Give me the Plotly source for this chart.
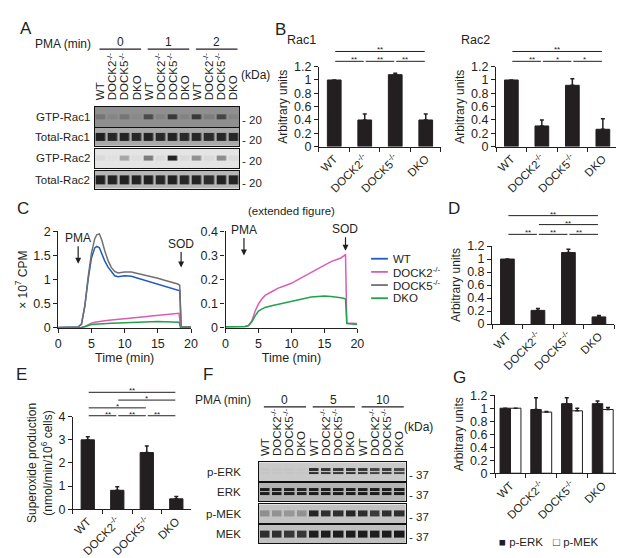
import plotly.graph_objects as go

W, H = 624, 558
FONT = "Liberation Sans, Arial, Helvetica, sans-serif"
INK = "#231f20"

# ---------------- data ----------------
genotypes = ["WT", "DOCK2<sup>-/-</sup>", "DOCK5<sup>-/-</sup>", "DKO"]

rac1_mean = [1.00, 0.40, 1.08, 0.40]
rac1_err = [0.00, 0.09, 0.02, 0.09]
rac2_mean = [1.00, 0.31, 0.92, 0.26]
rac2_err = [0.00, 0.09, 0.10, 0.16]
d_mean = [1.00, 0.21, 1.10, 0.11]
d_err = [0.00, 0.03, 0.05, 0.02]
e_mean = [3.00, 0.82, 2.45, 0.45]
e_err = [0.13, 0.15, 0.28, 0.10]
g_perk_mean = [1.00, 0.98, 1.07, 1.07]
g_perk_err = [0.00, 0.18, 0.09, 0.04]
g_pmek_mean = [1.00, 0.94, 0.96, 0.98]
g_pmek_err = [0.00, 0.01, 0.04, 0.03]

time_hi = [0, 1, 2, 3, 3.5, 4, 4.5, 5, 5.5, 5.8, 6.2, 6.6, 7, 7.5, 8, 8.5, 9,
           9.5, 10, 11, 12, 13, 14, 15, 16, 17, 18, 18.3, 18.5, 19, 20]
wt_cpm = [0.01, 0.01, 0.01, 0.02, 0.08, 0.45, 1.00, 1.45, 1.66, 1.69, 1.66,
          1.52, 1.39, 1.26, 1.16, 1.08, 1.06, 1.07, 1.08, 1.07, 1.03, 0.98,
          0.94, 0.90, 0.86, 0.83, 0.79, 0.77, 0.03, 0.02, 0.02]
dock5_cpm = [0.01, 0.01, 0.01, 0.02, 0.08, 0.45, 1.05, 1.55, 1.85, 1.93, 1.95,
             1.80, 1.60, 1.40, 1.25, 1.17, 1.14, 1.15, 1.16, 1.16, 1.13, 1.09,
             1.06, 1.03, 0.99, 0.95, 0.91, 0.88, 0.03, 0.02, 0.02]
time_lo = [0, 1, 2, 3, 3.5, 4, 4.5, 5, 5.5, 6, 7, 8, 9, 10, 11, 12, 13, 14,
           15, 16, 17, 17.5, 18, 18.2, 18.4, 19, 20]
dock2_cpm = [0.005, 0.005, 0.005, 0.006, 0.01, 0.03, 0.07, 0.10, 0.12, 0.135,
             0.15, 0.165, 0.175, 0.185, 0.20, 0.215, 0.23, 0.245, 0.26, 0.275,
             0.285, 0.29, 0.30, 0.305, 0.02, 0.02, 0.018]
dko_cpm = [0.005, 0.005, 0.005, 0.006, 0.01, 0.025, 0.05, 0.07, 0.078, 0.085,
           0.092, 0.098, 0.104, 0.11, 0.118, 0.125, 0.128, 0.13, 0.132, 0.13,
           0.128, 0.125, 0.122, 0.12, 0.018, 0.016, 0.014]

lanes = genotypes * 3
pma_a = ["0", "1", "2"]
pma_f = ["0", "5", "10"]
# band intensities per lane (0 = no band, 1 = black)
gtp_rac1 = [0.22, 0.08, 0.22, 0.05, 0.55, 0.10, 0.70, 0.10, 0.70, 0.15, 0.60, 0.08]
total_rac1 = [0.92, 0.88, 0.90, 0.88, 0.90, 0.86, 0.90, 0.86, 0.88, 0.84, 0.88, 0.88]
gtp_rac2 = [0.05, 0.02, 0.30, 0.03, 0.50, 0.05, 0.92, 0.05, 0.40, 0.05, 0.42, 0.05]
total_rac2 = [0.92, 0.90, 0.92, 0.90, 0.92, 0.88, 0.92, 0.88, 0.90, 0.85, 0.92, 0.90]
p_erk = [0.02, 0.02, 0.02, 0.02, 0.85, 0.80, 0.80, 0.82, 0.80, 0.72, 0.78, 0.70]
erk = [0.95, 0.95, 0.92, 0.92, 0.95, 0.95, 0.95, 0.95, 0.95, 0.95, 0.95, 0.95]
p_mek = [0.30, 0.28, 0.25, 0.28, 0.90, 0.85, 0.85, 0.90, 0.85, 0.78, 0.85, 0.85]
mek = [0.85, 0.85, 0.80, 0.80, 0.95, 0.95, 0.95, 0.95, 0.95, 0.95, 0.95, 0.97]


def xd(a, b):
    return [a / W, b / W]


def yd(top, bottom):
    return [1 - bottom / H, 1 - top / H]


def px(a):
    return a / W


def py(b):
    return 1 - b / H


fig = go.Figure()
layout = {}
shapes = []
annos = []


def txt(x, y, text, size=11, xanchor="center", yanchor="middle", **kw):
    d = dict(x=x, y=y, xref=kw.pop("xref", "paper"), yref=kw.pop("yref", "paper"),
             text=text, showarrow=False, xanchor=xanchor, yanchor=yanchor,
             font=dict(size=size, color=INK, family=FONT))
    d.update(kw)
    annos.append(d)


# ---------------- bar charts ----------------
def bar_axes(n, xdom, ydom, yrange, dtick, ytitle, tsize=12):
    layout[f"xaxis{n}"] = dict(domain=xdom, anchor=f"y{n}", range=[-0.5, 3.5],
                               showline=True, linecolor=INK, linewidth=1.2,
                               ticks="outside", ticklen=4, tickcolor=INK,
                               tickson="boundaries", tickangle=-45,
                               tickfont=dict(size=11.5), showgrid=False)
    layout[f"yaxis{n}"] = dict(domain=ydom, anchor=f"x{n}", range=yrange,
                               dtick=dtick, showline=True, linecolor=INK,
                               linewidth=1.2, ticks="outside", ticklen=4,
                               tickcolor=INK, showgrid=False, zeroline=False,
                               tickfont=dict(size=12.5),
                               title=dict(text=ytitle, font=dict(size=tsize),
                                          standoff=3))


def bar(n, vals, errs, color=INK, width=0.45, offset=None, line_color=INK):
    kw = {}
    if offset is not None:
        kw["offset"] = offset
    fig.add_trace(go.Bar(x=genotypes, y=vals, width=width,
                         marker=dict(color=color, line=dict(color=line_color, width=1)),
                         error_y=dict(type="data", array=errs,
                                      arrayminus=[0] * len(errs), symmetric=False,
                                      color=INK, thickness=1.5, width=2),
                         xaxis=f"x{n}", yaxis=f"y{n}", hoverinfo="skip", **kw))


def sig(n, i, j, yfrac, label):
    xa = "x domain" if n == 1 else f"x{n} domain"
    ya = "y domain" if n == 1 else f"y{n} domain"
    x0 = (i + 0.5) / 4 + 0.008
    x1 = (j + 0.5) / 4 - 0.008
    shapes.append(dict(type="line", xref=xa, yref=ya, x0=x0, x1=x1, y0=yfrac,
                       y1=yfrac, line=dict(color=INK, width=1)))
    annos.append(dict(xref=xa, yref=ya, x=(x0 + x1) / 2, y=yfrac, text=label,
                      showarrow=False, yanchor="bottom", yshift=-5,
                      font=dict(size=8, color=INK, family=FONT)))


# B - Rac1
bar_axes("", xd(313, 437), yd(53, 135), [0, 1.2], 0.2, "Arbitrary units")
bar(1, rac1_mean, rac1_err)
# B - Rac2
bar_axes(2, xd(493, 617), yd(53, 135), [0, 1.2], 0.2, "Arbitrary units")
bar(2, rac2_mean, rac2_err)
# D
bar_axes(5, xd(489, 613), yd(237, 317), [0, 1.2], 0.2, "Arbitrary units")
bar(5, d_mean, d_err)
# E
bar_axes(6, xd(63, 183), yd(412, 507), [0, 4], 1,
         "Superoxide production<br>(nmol/min/10<sup>6</sup> cells)")
bar(6, e_mean, e_err)
# G
bar_axes(7, xd(492, 617), yd(390, 470), [0, 1.2], 0.2, "Arbitrary units")
bar(7, g_perk_mean, g_perk_err, width=0.34, offset=-0.34)
bar(7, g_pmek_mean, g_pmek_err, color="white", width=0.34, offset=0.0)

layout["xaxis"]["anchor"] = "y"
layout["yaxis"]["anchor"] = "x"

# significance marks
for (i, j, yy, lab) in [(0, 3, 1.19, "**"), (0, 1, 1.067, "**"), (1, 2, 1.067, "**"), (2, 3, 1.067, "**")]:
    sig(1, i, j, yy, lab)
for (i, j, yy, lab) in [(0, 3, 1.19, "**"), (0, 1, 1.067, "**"), (1, 2, 1.067, "*"), (2, 3, 1.067, "*")]:
    sig(2, i, j, yy, lab)
for (i, j, yy, lab) in [(0, 3, 1.39, "**"), (1, 3, 1.275, "**"), (0, 1, 1.15, "**"), (1, 2, 1.15, "**"), (2, 3, 1.15, "**")]:
    sig(5, i, j, yy, lab)
for (i, j, yy, lab) in [(0, 3, 1.263, "**"), (1, 3, 1.179, "*"), (0, 2, 1.095, "*"), (0, 1, 1.01, "**"), (1, 2, 1.01, "**"), (2, 3, 1.01, "**")]:
    sig(6, i, j, yy, lab)

# ---------------- C line charts ----------------
line_colors = {"WT": "#1f5bbf", "DOCK2": "#dc5cb4", "DOCK5": "#707070", "DKO": "#1fa24a"}
for n, xdom in [(3, xd(48, 183)), (4, xd(218, 352))]:
    layout[f"xaxis{n}"] = dict(domain=xdom, anchor=f"y{n}", range=[0, 20], dtick=5,
                               showline=True, linecolor=INK, linewidth=1.2,
                               ticks="outside", ticklen=4, tickcolor=INK,
                               showgrid=False, zeroline=False,
                               tickfont=dict(size=12.5),
                               title=dict(text="Time (min)", font=dict(size=12.5), standoff=2))
layout["yaxis3"] = dict(domain=yd(222, 321), anchor="x3", range=[0, 2], dtick=0.5,
                        showline=True, linecolor=INK, linewidth=1.2, ticks="outside",
                        ticklen=4, tickcolor=INK, showgrid=False, zeroline=False,
                        tickfont=dict(size=12.5),
                        title=dict(text="× 10<sup>7</sup> CPM", font=dict(size=12), standoff=3))
layout["yaxis4"] = dict(domain=yd(222, 321), anchor="x4", range=[0, 0.4], dtick=0.1,
                        showline=True, linecolor=INK, linewidth=1.2, ticks="outside",
                        ticklen=4, tickcolor=INK, showgrid=False, zeroline=False,
                        tickfont=dict(size=12.5))

for t, v, c in [(time_hi, wt_cpm, "WT"), (time_hi, dock5_cpm, "DOCK5"),
                (time_lo, dock2_cpm, "DOCK2"), (time_lo, dko_cpm, "DKO")]:
    fig.add_trace(go.Scatter(x=t, y=v, mode="lines", line=dict(color=line_colors[c], width=1.5),
                             xaxis="x3", yaxis="y3", hoverinfo="skip"))
for t, v, c in [(time_lo, dock2_cpm, "DOCK2"), (time_lo, dko_cpm, "DKO")]:
    fig.add_trace(go.Scatter(x=t, y=v, mode="lines", line=dict(color=line_colors[c], width=1.5),
                             xaxis="x4", yaxis="y4", hoverinfo="skip"))


def arrow(n, x, y, label, ay):
    annos.append(dict(xref=f"x{n}", yref=f"y{n}", x=x, y=y, ax=0, ay=ay,
                      text=label, showarrow=True, arrowhead=2, arrowsize=1,
                      arrowwidth=1.2, arrowcolor=INK, standoff=0,
                      font=dict(size=12, color=INK, family=FONT)))


arrow(3, 3.0, 1.33, "PMA", -26)
arrow(3, 18.5, 1.25, "SOD", -24)
arrow(4, 2.8, 0.30, "PMA", -26)
arrow(4, 18.2, 0.32, "SOD", -22)
txt(px(285), py(201), "(extended figure)", size=11.5)

# C legend (manual)
for k, (name, key) in enumerate([("WT", "WT"), ("DOCK2<sup>-/-</sup>", "DOCK2"),
                                 ("DOCK5<sup>-/-</sup>", "DOCK5"), ("DKO", "DKO")]):
    yy = 250 + k * 13.5
    shapes.append(dict(type="line", xref="paper", yref="paper", x0=px(366), x1=px(383),
                       y0=py(yy), y1=py(yy), line=dict(color=line_colors[key], width=1.8)))
    txt(px(386), py(yy), name, size=11.5, xanchor="left")

# G legend (manual)
txt(px(494), py(541), "■ p-ERK", size=11.5, xanchor="left")
txt(px(549), py(541), "□ p-MEK", size=11.5, xanchor="left")

# ---------------- western blots ----------------
blots = [
    # axis n, values, bg, top, bottom, x0, x1, label, doublet, band fraction, lane labels on top
    (8, gtp_rac1, "#8f8f8f", 94, 115, 85, 232, "GTP-Rac1", False, 0.25, True),
    (9, total_rac1, "#a9a9a9", 116, 134, 85, 232, "Total-Rac1", False, 0.45, False),
    (10, gtp_rac2, "#e4e4e4", 137, 157, 85, 232, "GTP-Rac2", False, 0.28, False),
    (11, total_rac2, "#b6b6b6", 160, 178, 85, 232, "Total-Rac2", False, 0.50, False),
    (12, p_erk, "#c9c9c9", 459, 478, 252, 401, "p-ERK", True, 0.40, True),
    (13, erk, "#b3b3b3", 480, 499, 252, 401, "ERK", True, 0.45, False),
    (14, p_mek, "#c2c2c2", 502, 521, 252, 401, "p-MEK", False, 0.35, False),
    (15, mek, "#c0c0c0", 523, 542, 252, 401, "MEK", False, 0.38, False),
]
for (n, vals, bg, top, bot, x0, x1, lab, doublet, frac, lanelab) in blots:
    if doublet:
        z = [vals, vals]
        yv = [0, 1]
        span = 2 / frac
        yr = [0.5 - span / 2, 0.5 + span / 2]
    else:
        z = [vals]
        yv = [0]
        span = 1 / frac
        yr = [-span / 2, span / 2]
    fig.add_trace(go.Heatmap(z=z, x=list(range(12)), y=yv, zmin=0, zmax=1,
                             colorscale=[[0, bg], [1, "#141414"]], showscale=False,
                             xgap=2.5, ygap=1 if doublet else 0,
                             xaxis=f"x{n}", yaxis=f"y{n}", hoverinfo="skip"))
    xax = dict(domain=xd(x0, x1), anchor=f"y{n}", range=[-0.5, 11.5],
               showline=True, mirror=True, linecolor="#111111",
               linewidth=1.2, showticklabels=False, ticks="",
               showgrid=False, zeroline=False)
    if lanelab:
        xax.update(side="top", showticklabels=True, tickmode="array",
                   tickvals=list(range(12)), ticktext=lanes, tickangle=-90,
                   ticklabelstandoff=3, tickfont=dict(size=11.5, color=INK))
    layout[f"xaxis{n}"] = xax
    layout[f"yaxis{n}"] = dict(domain=yd(top, bot), anchor=f"x{n}", range=yr,
                               showline=True, mirror=True, linecolor="#111111",
                               linewidth=1.2, showticklabels=False, ticks="",
                               showgrid=False, zeroline=False)
    shapes.append(dict(type="rect", xref=f"x{n} domain", yref=f"y{n} domain",
                       x0=0, x1=1, y0=0, y1=1, fillcolor=bg, line=dict(width=0),
                       layer="below"))
    mid = (top + bot) / 2
    if n <= 11:
        txt(px(82), py(mid), lab, size=11.5, xanchor="right")
        txt(px(233), py(mid + 3), "- 20", size=11.5, xanchor="left")
    else:
        txt(px(236), py(mid), lab, size=11.5, xanchor="right")
        txt(px(402), py(mid + 3), "- 37", size=11.5, xanchor="left")


def blot_header(n, labels, ytext, yline):
    for g, lab in enumerate(labels):
        a = (4 * g + 0.4) / 12
        b = (4 * g + 3.85) / 12
        shapes.append(dict(type="line", xref=f"x{n} domain", yref="paper",
                           x0=a, x1=b, y0=py(yline), y1=py(yline),
                           line=dict(color=INK, width=1.2)))
        txt((a + b) / 2, py(ytext), lab, size=12, xref=f"x{n} domain")


blot_header(8, pma_a, 28, 35)
blot_header(12, pma_f, 395, 402)
txt(px(53), py(30), "PMA (min)", size=12)
txt(px(215), py(395), "PMA (min)", size=12)
txt(px(248), py(62), "(kDa)", size=12)
txt(px(414), py(423), "(kDa)", size=12)

# titles and panel letters
txt(px(295), py(26), "Rac1", size=12.5)
txt(px(472), py(26), "Rac2", size=12.5)
for letter, x, y in [("A", 15, 14), ("B", 274, 15), ("C", 12, 198), ("D", 450, 198),
                     ("E", 11, 369), ("F", 200, 369), ("G", 456, 372)]:
    txt(px(x), py(y), letter, size=17)

fig.update_layout(**layout)
fig.update_layout(width=W, height=H, margin=dict(l=0, r=0, t=0, b=0),
                  paper_bgcolor="white", plot_bgcolor="white", showlegend=False,
                  font=dict(family=FONT, color=INK, size=12),
                  shapes=shapes, annotations=annos, bargap=0.3)
fig.write_html("out.html")
